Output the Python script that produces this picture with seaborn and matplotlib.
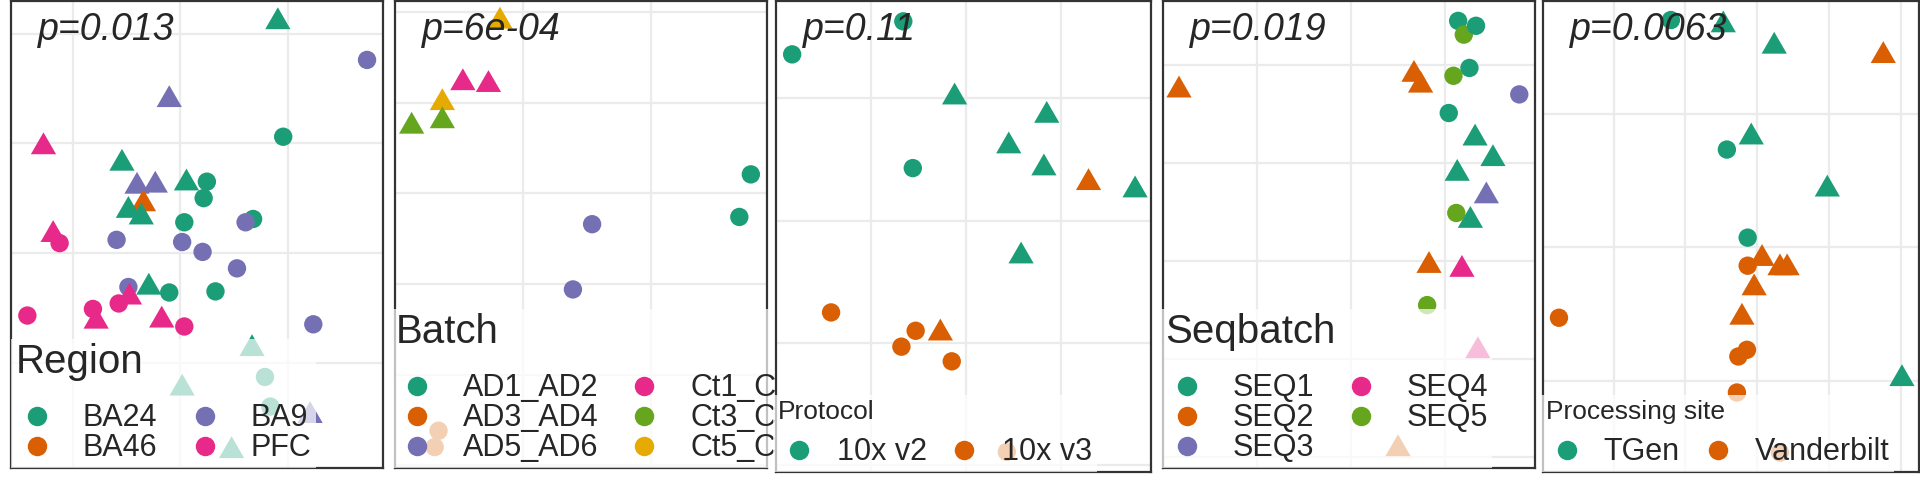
import matplotlib
matplotlib.use("Agg")
import matplotlib.pyplot as plt
from matplotlib.lines import Line2D
import pandas as pd
import seaborn as sns


# ---- data: one block per panel (PC-like coordinates)
region_levels = ["BA24", "BA46", "BA9", "PFC"]
region_x = [0.91, -0.10, 0.96, -1.27, -0.54, -0.40, -0.23, 0.06, 0.25, 0.22,
            -0.34, -0.48, -0.36, 0.04, 0.68, 0.61, -1.18, -1.12, -0.59, 0.02,
            0.21, 0.53, -0.48, -0.29, -0.47, -0.10, 0.33, -0.57, -0.81, -0.78,
            -1.42, -0.17, 0.04, 1.24, 0.67, 0.79, 0.02, 0.84, 1.21, 0.48, 1.74]
region_y = [2.14, 1.43, 1.06, 1.00, 0.85, 0.64, 0.65, 0.67, 0.65, 0.50,
            0.48, 0.42, 0.36, 0.28, 0.31, 0.28, 0.20, 0.09, 0.12, 0.10,
            0.01, -0.14, -0.31, -0.28, -0.37, -0.36, -0.35, -0.46, -0.51, -0.59,
            -0.57, -0.58, -0.67, -0.65, -0.84, -1.13, -1.20, -1.40, -1.45, -1.77, 1.76]
region_grp = ["BA24", "BA9", "BA24", "PFC", "BA24", "BA9", "BA9", "BA24", "BA24", "BA24",
              "BA46", "BA24", "BA24", "BA24", "BA24", "BA9", "PFC", "PFC", "BA9", "BA9",
              "BA9", "BA9", "BA9", "BA24", "PFC", "BA24", "BA24", "PFC", "PFC", "PFC",
              "PFC", "PFC", "PFC", "BA9", "BA24", "BA24", "BA24", "BA24", "BA9", "BA24", "BA9"]
region_dx = ["Control", "Control", "AD", "Control", "Control", "Control", "Control", "Control", "AD", "AD",
             "Control", "Control", "Control", "AD", "AD", "AD", "Control", "AD", "AD", "AD",
             "AD", "AD", "AD", "Control", "Control", "AD", "AD", "AD", "AD", "Control",
             "AD", "Control", "AD", "AD", "Control", "AD", "Control", "AD", "Control", "Control", "AD"]

batch_levels = ["AD1_AD2", "AD3_AD4", "AD5_AD6", "Ct1_Ct2", "Ct3_Ct4", "Ct5_Ct6"]
batch_x = [-0.18, -0.47, -0.27, -0.63, -0.63, -0.87, 0.54, 0.39, 1.78, 1.69, -0.66, -0.69]
batch_y = [2.94, 2.26, 2.24, 2.04, 1.84, 1.78, 0.66, -0.06, 1.21, 0.74, -1.62, -1.80]
batch_grp = ["Ct5_Ct6", "Ct1_Ct2", "Ct1_Ct2", "Ct5_Ct6", "Ct3_Ct4", "Ct3_Ct4",
             "AD5_AD6", "AD5_AD6", "AD1_AD2", "AD1_AD2", "AD3_AD4", "AD3_AD4"]
batch_dx = ["Control"] * 6 + ["AD"] * 6

protocol_levels = ["10x v2", "10x v3"]
protocol_x = [-1.83, -0.66, -0.12, -0.56, 0.85, 0.45, 0.82, 1.29, 1.78, 0.58,
              -1.42, -0.53, -0.27, -0.68, -0.15, 0.43]
protocol_y = [2.36, 2.63, 2.04, 1.43, 1.89, 1.64, 1.46, 1.34, 1.28, 0.74,
              0.25, 0.10, 0.11, -0.03, -0.15, -0.89]
protocol_grp = ["10x v2"] * 7 + ["10x v3", "10x v2", "10x v2"] + ["10x v3"] * 6
protocol_dx = ["AD", "AD", "Control", "AD", "Control", "Control", "Control", "Control", "Control", "Control",
               "AD", "AD", "Control", "AD", "AD", "AD"]

seq_levels = ["SEQ1", "SEQ2", "SEQ3", "SEQ4", "SEQ5"]
seq_x = [-1.83, 1.14, 1.20, 1.33, 0.67, 0.74, 1.26, 1.09, 1.79, 1.04, 1.32,
         1.51, 1.13, 1.44, 1.12, 1.27, 0.83, 1.18, 0.81, 1.35, 0.50]
seq_y = [1.78, 2.45, 2.31, 2.40, 1.94, 1.83, 1.97, 1.89, 1.70, 1.51, 1.29,
         1.08, 0.93, 0.70, 0.49, 0.45, -0.01, -0.05, -0.45, -0.88, -1.88]
seq_grp = ["SEQ2", "SEQ1", "SEQ5", "SEQ1", "SEQ2", "SEQ2", "SEQ1", "SEQ5", "SEQ3", "SEQ1", "SEQ1",
           "SEQ1", "SEQ1", "SEQ3", "SEQ5", "SEQ1", "SEQ2", "SEQ4", "SEQ5", "SEQ4", "SEQ2"]
seq_dx = ["Control", "AD", "AD", "AD", "Control", "Control", "AD", "AD", "AD", "AD", "Control",
          "Control", "Control", "Control", "AD", "Control", "Control", "Control", "AD", "Control", "Control"]

site_levels = ["TGen", "Vanderbilt"]
site_x = [-1.20, -0.47, 0.24, 1.76, -0.08, -0.42, 0.98, -0.13, 0.07, -0.13,
          0.32, 0.42, -0.04, -2.76, -0.21, -0.14, -0.26, 2.02, -0.28, 0.32]
site_y = [1.70, 1.69, 1.53, 1.46, 0.85, 0.73, 0.46, 0.07, -0.06, -0.14,
          -0.13, -0.13, -0.28, -0.53, -0.50, -0.77, -0.82, -0.96, -1.09, -1.54]
site_grp = ["TGen", "TGen", "TGen", "Vanderbilt", "TGen", "TGen", "TGen", "TGen", "Vanderbilt", "Vanderbilt",
            "Vanderbilt", "Vanderbilt", "Vanderbilt", "Vanderbilt", "Vanderbilt", "Vanderbilt", "Vanderbilt",
            "TGen", "Vanderbilt", "Vanderbilt"]
site_dx = ["AD", "Control", "Control", "Control", "Control", "AD", "Control", "AD", "Control", "AD",
           "Control", "Control", "Control", "AD", "Control", "AD", "AD", "Control", "AD", "AD"]

p_labels = ["p=0.013", "p=6e-04", "p=0.11", "p=0.019", "p=0.0063"]


# ---- layout (pixel frames of the five cropped panels in a 1920x480 canvas)
W, H = 1920, 480
panels = [
    dict(x=region_x, y=region_y, g=region_grp, dx=region_dx, levels=region_levels, title="Region",
         frame=(11, 1, 383, 468), origin=(180, 253), step=(107.5, 109.7),
         xt=[-1, 0, 1], yt=[-1, 0, 1, 2], tsize=29, htp=0.8, cs=0.85, gap=16, shift=0),
    dict(x=batch_x, y=batch_y, g=batch_grp, dx=batch_dx, levels=batch_levels, title="Batch",
         frame=(395, 1, 767, 468), origin=(523, 284), step=(128, 90.6),
         xt=[0, 1], yt=[-2, -1, 0, 1, 2, 3], tsize=29, htp=0.8, cs=0.8, gap=16, shift=-4),
    dict(x=protocol_x, y=protocol_y, g=protocol_grp, dx=protocol_dx, levels=protocol_levels, title="Protocol",
         frame=(776, 1, 1151, 472), origin=(966, 343), step=(95, 122.3),
         xt=[-1, 0, 1], yt=[-1, 0, 1, 2], tsize=19, htp=0.55, cs=0.5, gap=10, shift=-3),
    dict(x=seq_x, y=seq_y, g=seq_grp, dx=seq_dx, levels=seq_levels, title="Seqbatch",
         frame=(1163, 1, 1535, 468), origin=(1351, 261), step=(94, 98),
         xt=[-1, 0, 1], yt=[-2, -1, 0, 1, 2], tsize=29, htp=0.78, cs=0.85, gap=16, shift=-2),
    dict(x=site_x, y=site_y, g=site_grp, dx=site_dx, levels=site_levels, title="Processing site",
         frame=(1543, 1, 1919, 472), origin=(1757, 247), step=(71.75, 133.5),
         xt=[-2, -1, 0, 1, 2], yt=[-1, 0, 1], tsize=19, htp=0.5, cs=0.55, gap=10, shift=-2),
]

sns.set_style("white")
plt.rcParams["font.family"] = ["Liberation Sans", "DejaVu Sans"]

palette = sns.color_palette("Dark2")
# equilateral triangle like ggplot's pch 17
TRIANGLE = [(0, 0.433), (-0.5, -0.433), (0.5, -0.433)]
markers = {"AD": "o", "Control": TRIANGLE}
sizes = {"AD": 175, "Control": 330}

fig = plt.figure(figsize=(W / 100, H / 100), dpi=100)

for i, p in enumerate(panels):
    x0, y0, x1, y1 = p["frame"]
    ox, oy = p["origin"]
    sx, sy = p["step"]
    ax = fig.add_axes([x0 / W, 1 - y1 / H, (x1 - x0) / W, (y1 - y0) / H])

    df = pd.DataFrame({"PC1": p["x"], "PC2": p["y"], "group": p["g"], "dx": p["dx"]})
    colors = dict(zip(p["levels"], palette))
    sns.scatterplot(data=df, x="PC1", y="PC2", hue="group", style="dx", size="dx",
                    palette=colors, markers=markers, sizes=sizes, linewidth=0,
                    alpha=1, legend=False, ax=ax)

    ax.set_xlim((x0 - ox) / sx, (x1 - ox) / sx)
    ax.set_ylim((oy - y1) / sy, (oy - y0) / sy)
    ax.set_xticks(p["xt"])
    ax.set_yticks(p["yt"])
    ax.tick_params(length=0, labelbottom=False, labelleft=False)
    ax.set_xlabel("")
    ax.set_ylabel("")
    ax.grid(True, color="#ebebeb", linewidth=1.6)
    ax.set_axisbelow(True)
    for sp in ax.spines.values():
        sp.set_visible(True)
        sp.set_color("#333333")
        sp.set_linewidth(1.6)

    ax.text(27 / (x1 - x0), 1 - 39 / (y1 - y0), p_labels[i], transform=ax.transAxes,
            fontsize=27, style="italic", ha="left", va="baseline")

    handles = [Line2D([], [], marker="o", linestyle="", markersize=14,
                      markerfacecolor=colors[lv], markeredgewidth=0) for lv in p["levels"]]
    leg = ax.legend(handles, p["levels"], title=p["title"], ncol=2, loc="lower left",
                    bbox_to_anchor=(p["shift"] / (x1 - x0), 0), bbox_transform=ax.transAxes,
                    fontsize=22, title_fontsize=p["tsize"], alignment="left",
                    handlelength=1.4, handletextpad=p["htp"], columnspacing=p["cs"],
                    labelspacing=0.0, borderpad=0.15, borderaxespad=0,
                    frameon=True, framealpha=0.7, fancybox=False)
    leg.get_frame().set_linewidth(0)
    leg._legend_box.sep = p["gap"]

fig.savefig("out.png", dpi=100)
